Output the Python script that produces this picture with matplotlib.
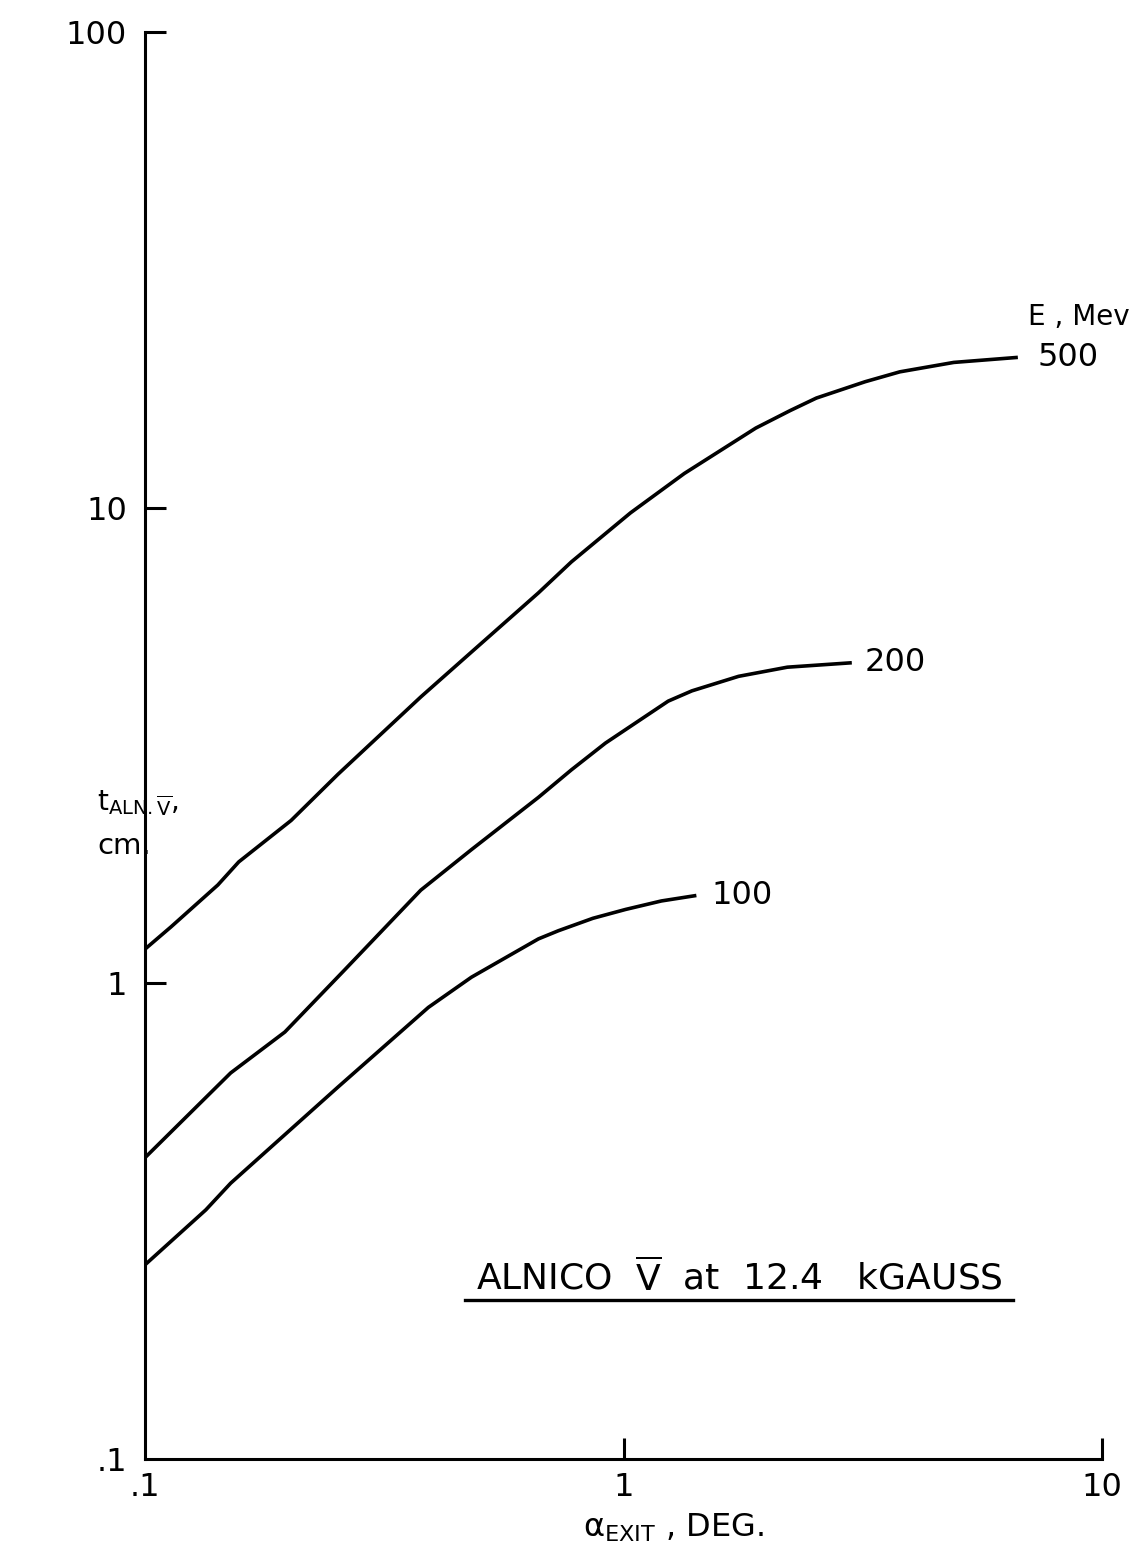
import matplotlib
matplotlib.use("Agg")
import matplotlib.pyplot as plt
from matplotlib.ticker import FixedLocator, FixedFormatter, NullLocator

# ---- data (log-log) ----
x_500 = [0.100, 0.1134, 0.142, 0.157, 0.202, 0.253, 0.377, 0.481, 0.664, 0.778,
         1.034, 1.34, 1.89, 2.23, 2.53, 3.20, 3.78, 4.90, 6.67]
y_500 = [1.18, 1.315, 1.61, 1.80, 2.20, 2.75, 4.00, 4.97, 6.62, 7.69,
         9.75, 11.8, 14.7, 16.0, 17.0, 18.4, 19.3, 20.2, 20.7]

x_200 = [0.100, 0.151, 0.196, 0.262, 0.377, 0.481, 0.664, 0.778, 0.917,
         1.07, 1.24, 1.39, 1.74, 2.20, 3.00]
y_200 = [0.43, 0.648, 0.79, 1.07, 1.57, 1.91, 2.46, 2.81, 3.20,
         3.55, 3.92, 4.12, 4.42, 4.62, 4.72]

x_100 = [0.100, 0.134, 0.151, 0.253, 0.391, 0.481, 0.664, 0.731, 0.863, 1.01, 1.20, 1.42]
y_100 = [0.256, 0.334, 0.38, 0.605, 0.89, 1.03, 1.24, 1.29, 1.37, 1.43, 1.49, 1.53]

curve_labels = ["500", "200", "100"]
x_ticks = [0.1, 1, 10]
x_tick_labels = [".1", "1", "10"]
y_ticks = [0.1, 1, 10, 100]
y_tick_labels = [".1", "1", "10", "100"]

plt.rcParams['font.family'] = ['DejaVu Sans']
plt.rcParams['mathtext.fontset'] = 'dejavusans'

fig = plt.figure(figsize=(11.38, 15.57), dpi=100)
ax = fig.add_axes([145 / 1138, 1 - 1459 / 1557, 957 / 1138, (1459 - 32) / 1557])
ax.set_xscale('log')
ax.set_yscale('log')
ax.set_xlim(0.1, 10)
ax.set_ylim(0.1, 100)

lw = 2.6
for xs, ys, lab, off in [(x_500, y_500, curve_labels[0], 14),
                         (x_200, y_200, curve_labels[1], 9),
                         (x_100, y_100, curve_labels[2], 11)]:
    ax.plot(xs, ys, color='black', lw=lw, solid_capstyle='butt', solid_joinstyle='round')
    ax.annotate(lab, xy=(xs[-1], ys[-1]), xytext=(off, 0), textcoords='offset points',
                ha='left', va='center', fontsize=23)

for s in ['top', 'right']:
    ax.spines[s].set_visible(False)
for s in ['left', 'bottom']:
    ax.spines[s].set_linewidth(2.2)

ax.xaxis.set_major_locator(FixedLocator(x_ticks))
ax.xaxis.set_major_formatter(FixedFormatter(x_tick_labels))
ax.yaxis.set_major_locator(FixedLocator(y_ticks))
ax.yaxis.set_major_formatter(FixedFormatter(y_tick_labels))
ax.xaxis.set_minor_locator(NullLocator())
ax.yaxis.set_minor_locator(NullLocator())
ax.tick_params(axis='both', which='major', direction='in', length=15, width=2.2,
               labelsize=23)
ax.tick_params(axis='x', pad=9)
ax.tick_params(axis='y', pad=13)
# no visible tick at the bottom-left corner
ax.xaxis.get_major_ticks()[0].tick1line.set_visible(False)
ax.yaxis.get_major_ticks()[0].tick1line.set_visible(False)

# axis labels
fig.text(583 / 1138, 1 - 1528 / 1557, r"$\mathregular{\alpha}_{\mathregular{EXIT}}$ , DEG.",
         ha='left', va='center', fontsize=23)
fig.text(97 / 1138, 1 - 803 / 1557, r"t$_{\mathregular{ALN.}\overline{\mathregular{V}}}$,",
         ha='left', va='center', fontsize=20)
fig.text(97 / 1138, 1 - 846 / 1557, "cm.", ha='left', va='center', fontsize=21)

# legend title
fig.text(1028 / 1138, 1 - 317 / 1557, "E , Mev", ha='left', va='center', fontsize=20)

# chart title, underlined
fig.text(739 / 1138, 1 - 1277 / 1557, r"ALNICO  $\overline{\mathregular{V}}$  at  12.4   kGAUSS",
         ha='center', va='center', fontsize=26)
fig.add_artist(plt.Line2D([465 / 1138, 1013 / 1138], [1 - 1300 / 1557, 1 - 1300 / 1557],
                          transform=fig.transFigure, color='black', lw=2.4))

fig.savefig("out.png", dpi=100)
